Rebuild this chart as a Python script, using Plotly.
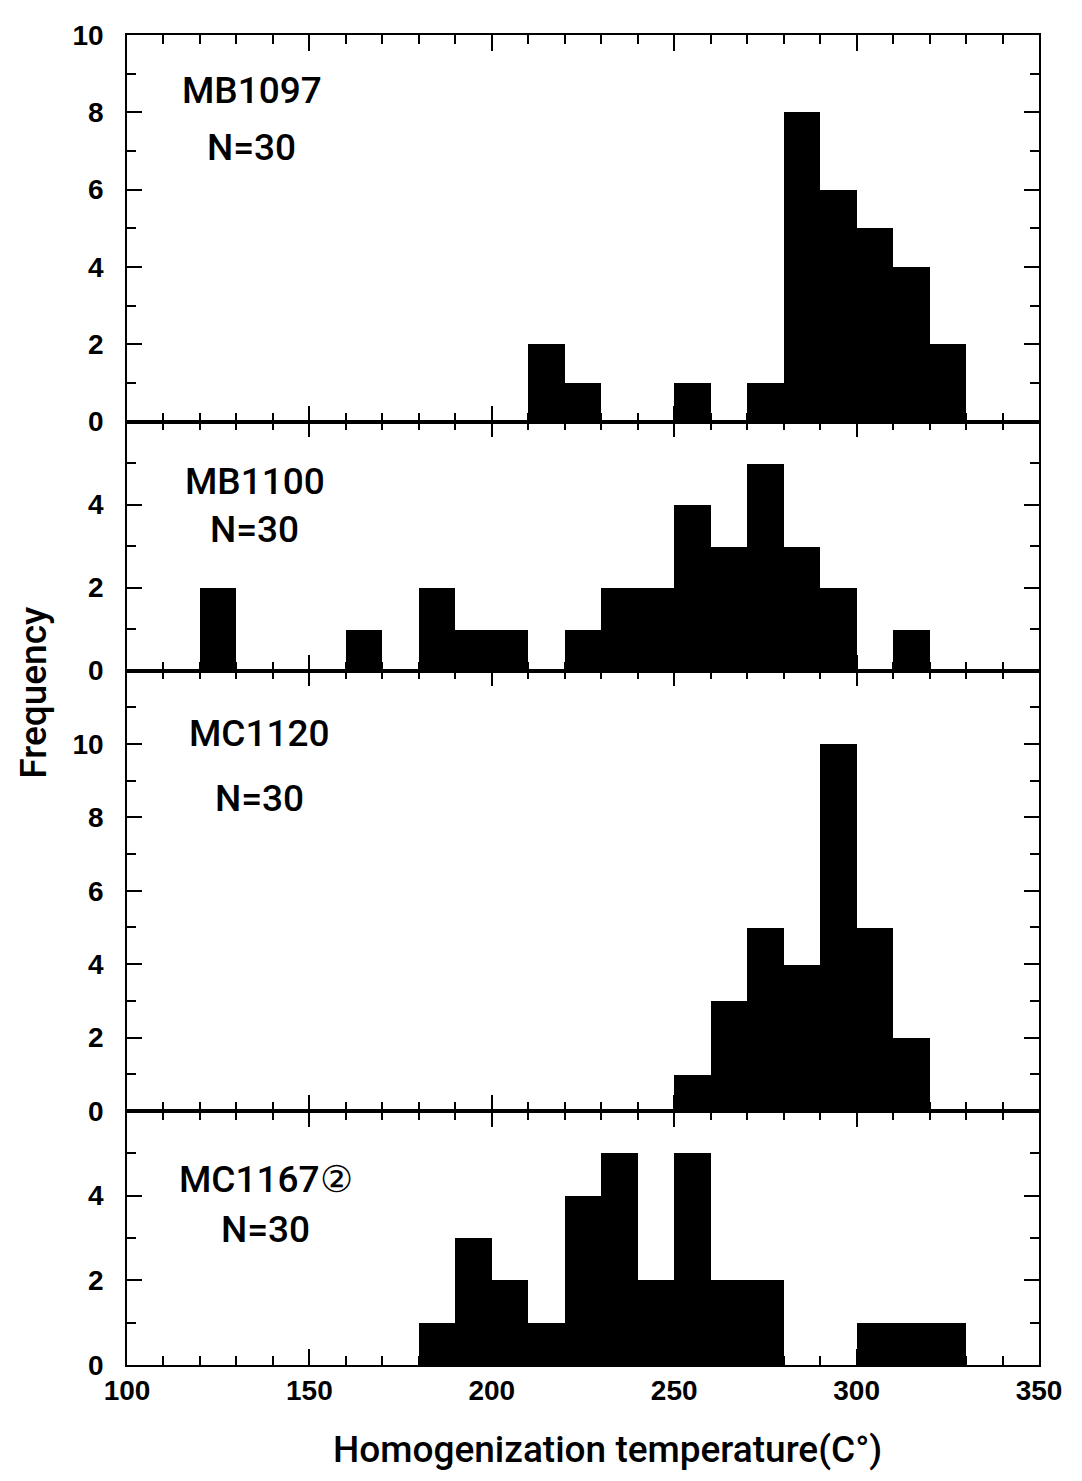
import plotly.graph_objects as go

# ---- data (bin start in °C, bin width 10) ----
samples = ["MB1097", "MB1100", "MC1120", "MC1167②"]
n_labels = ["N=30", "N=30", "N=30", "N=30"]

mb1097_bins = [210, 220, 250, 270, 280, 290, 300, 310, 320]
mb1097_counts = [2, 1, 1, 1, 8, 6, 5, 4, 2]

mb1100_bins = [120, 160, 180, 190, 200, 220, 230, 240, 250, 260, 270, 280, 290, 310]
mb1100_counts = [2, 1, 2, 1, 1, 1, 2, 2, 4, 3, 5, 3, 2, 1]

mc1120_bins = [250, 260, 270, 280, 290, 300, 310]
mc1120_counts = [1, 3, 5, 4, 10, 5, 2]

mc1167_bins = [180, 190, 200, 210, 220, 230, 240, 250, 260, 270, 300, 310, 320]
mc1167_counts = [1, 3, 2, 1, 4, 5, 2, 5, 2, 2, 1, 1, 1]

y_ranges = [[0, 10], [0, 6], [0, 12], [0, 6]]
y_tickvals = [[0, 2, 4, 6, 8, 10], [0, 2, 4], [0, 2, 4, 6, 8, 10], [0, 2, 4]]
x_tickvals = [100, 150, 200, 250, 300, 350]
bin_width = 10

# ---- layout geometry (page body has an 8px margin) ----
OFF = 8
W, H = 1066, 1465
plot_left, plot_right, plot_top, plot_bottom = 127, 1041, 30, 1365  # page pixels
L = plot_left - OFF
R = (W + OFF) - plot_right
T = plot_top - OFF
B = (H + OFF) - plot_bottom
plot_w = plot_right - plot_left
plot_h = plot_bottom - plot_top

bounds_px = [30, 418, 668, 1110, 1365]
domains = []
for i in range(4):
    top = (plot_bottom - bounds_px[i]) / plot_h
    bot = (plot_bottom - bounds_px[i + 1]) / plot_h
    domains.append([max(0, bot), min(1, top)])

fig = go.Figure()
data = [(mb1097_bins, mb1097_counts), (mb1100_bins, mb1100_counts),
        (mc1120_bins, mc1120_counts), (mc1167_bins, mc1167_counts)]

tickfont = dict(family="Liberation Sans Narrow, Liberation Sans, Arial, sans-serif",
                size=28, color="black", weight="bold")

for i, (bins, counts) in enumerate(data):
    s = "" if i == 0 else str(i + 1)
    fig.add_trace(go.Bar(x=bins, y=counts, width=bin_width, offset=0,
                         marker=dict(color="black", line=dict(width=0)),
                         xaxis="x" + s, yaxis="y" + s, showlegend=False))
    fig.layout["xaxis" + s] = dict(
        domain=[0, 1], range=[100, 350], anchor="y" + s,
        tickvals=x_tickvals, ticks="inside", ticklen=16, tickwidth=1.5, tickcolor="black",
        minor=dict(dtick=10, tick0=100, ticks="inside", ticklen=9, tickwidth=1.5, tickcolor="black"),
        showline=True, linecolor="black", linewidth=1.5, mirror="ticks",
        showgrid=False, zeroline=False,
        showticklabels=(i == 3), tickfont=tickfont,
    )
    fig.layout["yaxis" + s] = dict(
        domain=domains[i], range=y_ranges[i], anchor="x" + s,
        tickvals=y_tickvals[i], ticks="inside", ticklen=15, tickwidth=1.5, tickcolor="black",
        minor=dict(dtick=1, tick0=0, ticks="inside", ticklen=9, tickwidth=1.5, tickcolor="black"),
        showline=True, linecolor="black", linewidth=1.5, mirror="ticks",
        showgrid=False, zeroline=False, tickfont=tickfont, ticklabelstandoff=16,
    )


def px2paper(px, py):
    return (px - plot_left) / plot_w, (plot_bottom - py) / plot_h


labfont = dict(family="Roboto, Liberation Sans, sans-serif", size=37,
               color="black", weight=500)
# page-pixel centres: (x, y of sample name, y of N label)
label_pos = [(252, 86, 143), (255, 478, 526), (260, 731, 796), (266, 1179, 1229)]

for name, nl, (cx, y1, y2) in zip(samples, n_labels, label_pos):
    x, y = px2paper(cx, y1)
    fig.add_annotation(text=name, x=x, y=y, xref="paper", yref="paper",
                       showarrow=False, font=labfont, xanchor="center", yanchor="middle")
    x, y = px2paper(cx, y2)
    fig.add_annotation(text=nl, x=x, y=y, xref="paper", yref="paper",
                       showarrow=False, font=labfont, xanchor="center", yanchor="middle")

titlefont = dict(family="Roboto, Liberation Sans, sans-serif", size=37,
                 color="black", weight=500)
x, y = px2paper(609, 1450)
fig.add_annotation(text="Homogenization temperature(C°)", x=x, y=y, xref="paper", yref="paper",
                   showarrow=False, font=titlefont, xanchor="center", yanchor="middle")
x, y = px2paper(33, 690)
fig.add_annotation(text="Frequency", x=x, y=y, xref="paper", yref="paper", textangle=-90,
                   showarrow=False, font=titlefont, xanchor="center", yanchor="middle")

fig.update_layout(width=W, height=H, margin=dict(l=L, r=R, t=T, b=B),
                  paper_bgcolor="white", plot_bgcolor="white", bargap=0)

fig.write_html("out.html")
